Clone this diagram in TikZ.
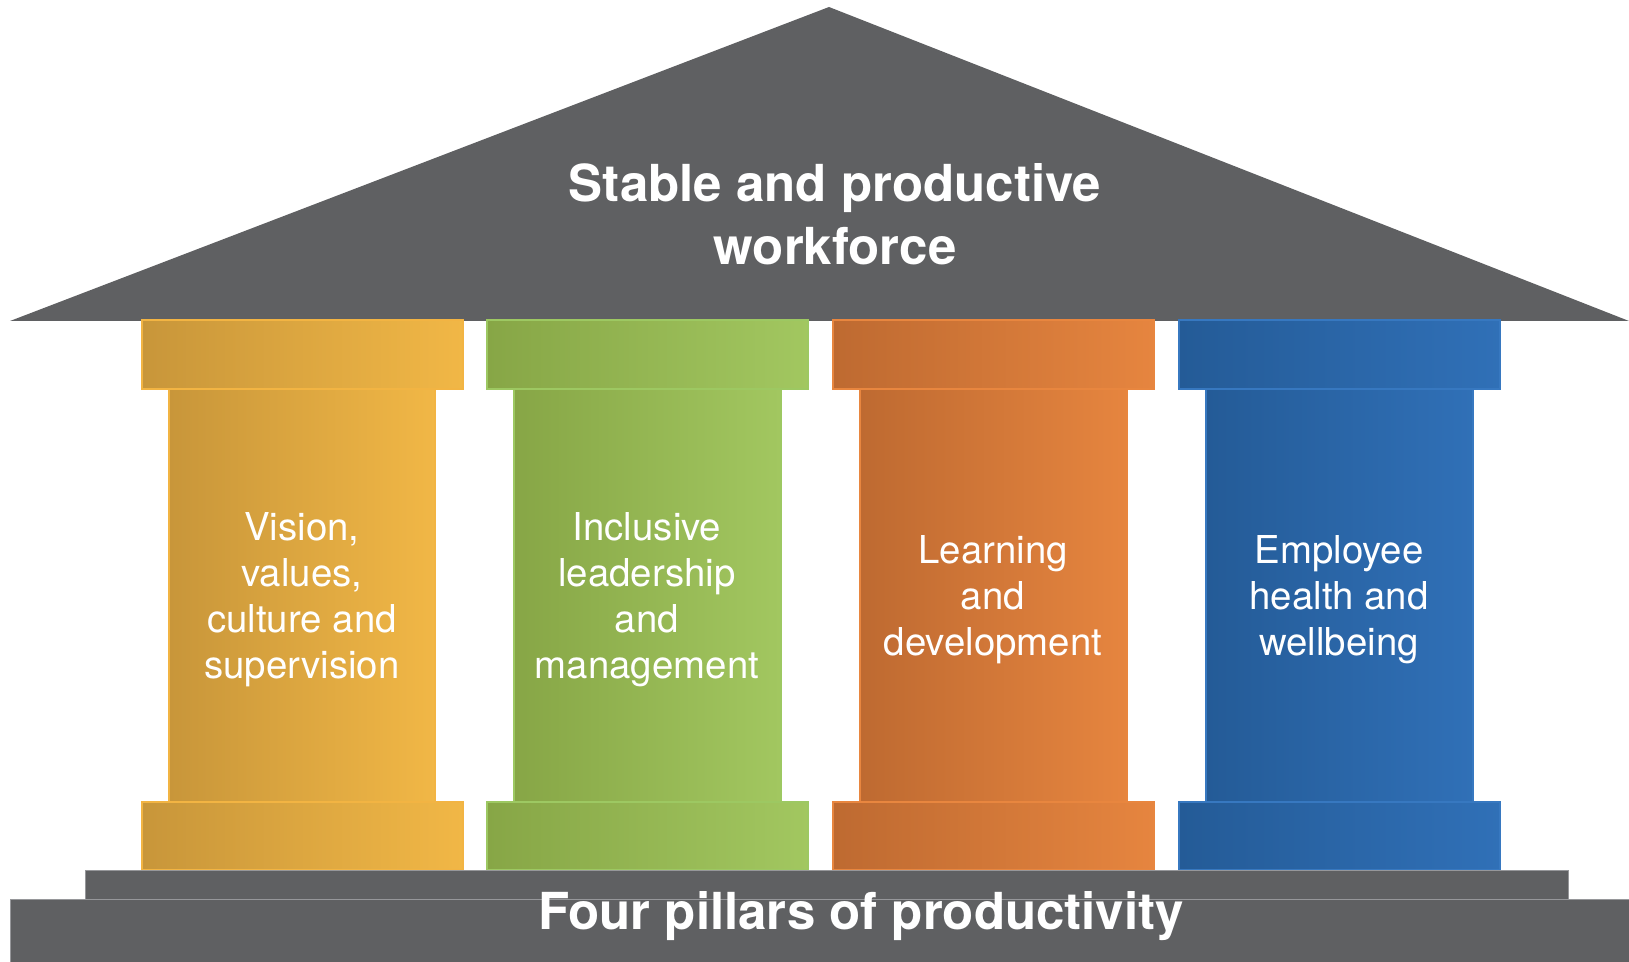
\documentclass[tikz,border=0pt]{standalone}
\usepackage{fontspec}
\setmainfont{TeX Gyre Heros}
\definecolor{roofgray}{HTML}{5F6062}
\definecolor{edgegray}{HTML}{96979A}
\definecolor{ylwA}{HTML}{C8963A}
\definecolor{ylwB}{HTML}{F1B746}
\definecolor{ylwE}{HTML}{F2B443}
\definecolor{grnA}{HTML}{87A646}
\definecolor{grnB}{HTML}{A2C760}
\definecolor{grnE}{HTML}{9DC862}
\definecolor{orgA}{HTML}{BE6A31}
\definecolor{orgB}{HTML}{E6853F}
\definecolor{orgE}{HTML}{E8863F}
\definecolor{bluA}{HTML}{245B97}
\definecolor{bluB}{HTML}{3070B7}
\definecolor{bluE}{HTML}{3778C0}

\begin{document}
\begin{tikzpicture}[x=0.5pt,y=-0.5pt,
  slab/.style={fill=roofgray,draw=edgegray,line width=0.5pt},
  ylwpart/.style={draw=ylwE,line width=1pt,left color=ylwA,right color=ylwB},
  grnpart/.style={draw=grnE,line width=1pt,left color=grnA,right color=grnB},
  orgpart/.style={draw=orgE,line width=1pt,left color=orgA,right color=orgB},
  blupart/.style={draw=bluE,line width=1pt,left color=bluA,right color=bluB},
  pillartext/.style={text=white,align=center,font=\fontsize{19.2}{23}\selectfont},
  bigtext/.style={text=white,align=center,font=\bfseries\fontsize{25.5}{31.5}\selectfont}]
\useasboundingbox (0,0) rectangle (1629,962);

\fill[roofgray] (829,7) -- (1629,321) -- (10,321) -- cycle;
\node[bigtext] (roof) at (835,214) {Stable and productive\\workforce};

\draw[ylwpart] (169,389) rectangle (435,802);
\draw[ylwpart] (142,320) rectangle (463,389);
\draw[ylwpart] (142,802) rectangle (463,870);
\node[pillartext] (vision) at (302,600) {Vision,\\values,\\culture and\\supervision};

\draw[grnpart] (514,389) rectangle (781,802);
\draw[grnpart] (487,320) rectangle (808,389);
\draw[grnpart] (487,802) rectangle (808,870);
\node[pillartext] (leading) at (647,600) {Inclusive\\leadership\\and\\management};

\draw[orgpart] (860,389) rectangle (1127,802);
\draw[orgpart] (833,320) rectangle (1154,389);
\draw[orgpart] (833,802) rectangle (1154,870);
\node[pillartext] (learning) at (993,600) {Learning\\and\\development};

\draw[blupart] (1206,389) rectangle (1473,802);
\draw[blupart] (1179,320) rectangle (1500,389);
\draw[blupart] (1179,802) rectangle (1500,870);
\node[pillartext] (health) at (1339,600) {Employee\\health and\\wellbeing};

\draw[slab] (85,870) rectangle (1568,899);
\draw[slab] (10,899) rectangle (1640,970);
\node[bigtext] (base) at (861,916) {Four pillars of productivity};
\end{tikzpicture}
\end{document}
